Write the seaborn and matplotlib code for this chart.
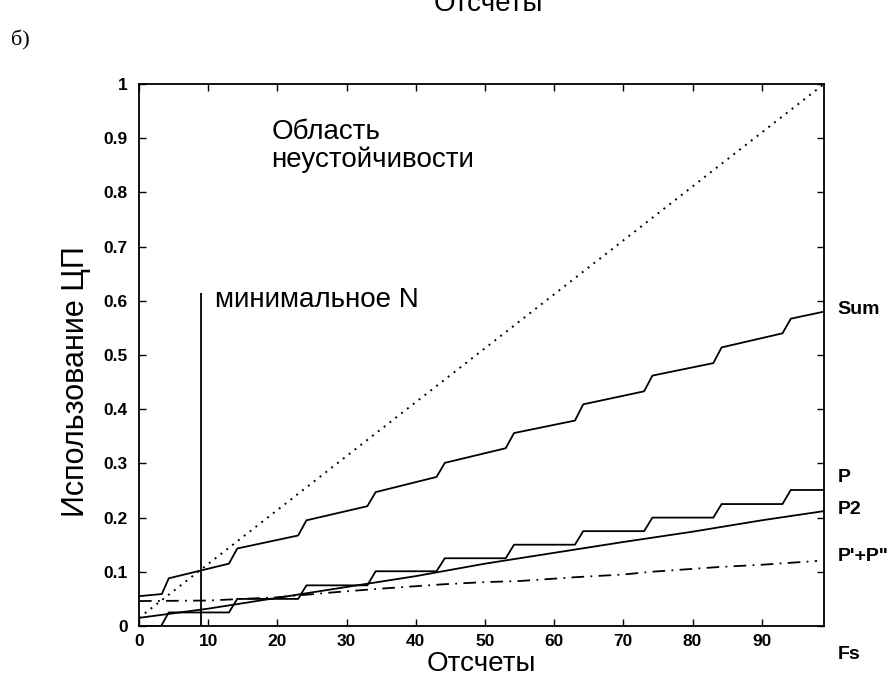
import matplotlib
matplotlib.use("Agg")
import matplotlib.pyplot as plt
import seaborn as sns
import pandas as pd

# --- Data ---
SUM_X = [0, 3.3, 4.3, 13, 14.2, 23, 24.2, 33, 34.2, 43, 44.2, 53, 54.2, 63, 64.2, 73, 74.2, 83, 84.2, 93, 94.2, 99]
SUM_Y = [0.055, 0.059, 0.088, 0.115, 0.143, 0.167, 0.195, 0.221, 0.247, 0.275, 0.301, 0.328,
         0.356, 0.379, 0.409, 0.433, 0.462, 0.485, 0.514, 0.540, 0.567, 0.580]

P_X = [0, 3.2, 4.3, 13, 14.2, 23, 24.2, 33, 34.2, 43, 44.2, 53, 54.2, 63, 64.2, 73, 74.2, 83, 84.2, 93, 94.2, 99]
P_Y = [0, 0, 0.025, 0.025, 0.05, 0.05, 0.075, 0.075, 0.101, 0.101, 0.125, 0.125,
       0.15, 0.15, 0.175, 0.175, 0.2, 0.2, 0.225, 0.225, 0.251, 0.251]

P2_X = [0, 10, 20, 30, 40, 50, 60, 70, 80, 90, 99]
P2_Y = [0.015, 0.032, 0.052, 0.072, 0.092, 0.115, 0.135, 0.155, 0.174, 0.195, 0.212]

PP_X = [0, 10, 20, 28, 35, 44, 50, 55, 63, 70, 74, 84, 90, 98]
PP_Y = [0.046, 0.047, 0.053, 0.062, 0.069, 0.077, 0.081, 0.083, 0.090, 0.095, 0.100, 0.109, 0.113, 0.120]

FS_X = [0, 99]          # Fs, dotted diagonal
FS_Y = [0.015, 1.0]

MIN_N = 9               # "минимальное N"
MIN_N_TOP = 0.615

X_TICKS = [0, 10, 20, 30, 40, 50, 60, 70, 80, 90]
Y_TICKS = [0, 0.1, 0.2, 0.3, 0.4, 0.5, 0.6, 0.7, 0.8, 0.9, 1]
Y_LABELS = ["0", "0.1", "0.2", "0.3", "0.4", "0.5", "0.6", "0.7", "0.8", "0.9", "1"]

# right side labels: (text, y)
RIGHT_LABELS = [("Sum", 0.584), ("P", 0.274), ("P2", 0.215), ("P'+P\"", 0.129), ("Fs", -0.052)]

INK = "black"
DOTTED = (0, (1, 2.8))
DASHDOT = (0, (7, 3.5, 1, 3.5))

sns.set_theme(style="ticks")
plt.rcParams["font.family"] = ["Liberation Sans", "DejaVu Sans"]

fig = plt.figure(figsize=(8.88, 6.81), dpi=100)
ax = fig.add_axes([139 / 888, 1 - 626 / 681, 685 / 888, 542 / 681])


def draw(xs, ys, style, lw=1.3):
    df = pd.DataFrame({"x": xs, "y": ys})
    sns.lineplot(data=df, x="x", y="y", ax=ax, color=INK, linestyle=style,
                 linewidth=lw, estimator=None, sort=False)


draw(FS_X, FS_Y, DOTTED, 1.4)
draw(SUM_X, SUM_Y, "-")
draw(P_X, P_Y, "-")
draw(P2_X, P2_Y, "-")
draw(PP_X, PP_Y, DASHDOT)
ax.vlines(MIN_N, 0, MIN_N_TOP, color=INK, linewidth=1.3)

ax.set_xlim(0, 99)
ax.set_ylim(0, 1)
ax.set_xticks(X_TICKS)
ax.set_yticks(Y_TICKS)
ax.set_yticklabels(Y_LABELS)
ax.tick_params(direction="in", top=True, right=True, length=5, width=1,
               labelsize=12.5, colors=INK)
ax.tick_params(axis="y", pad=8)
ax.tick_params(axis="x", pad=6)
for lab in ax.get_xticklabels() + ax.get_yticklabels():
    lab.set_fontweight("bold")
for sp in ax.spines.values():
    sp.set_visible(True)
    sp.set_color(INK)
    sp.set_linewidth(1.3)

ax.set_xlabel("Отсчеты", fontsize=20, color=INK, labelpad=1)
ax.set_ylabel("Использование ЦП", fontsize=22, color=INK)
ax.yaxis.set_label_coords(-0.07, 0.45)

ax.text(19.1, 0.899, "Область", fontsize=20, color=INK, va="baseline")
ax.text(19.1, 0.847, "неустойчивости", fontsize=20, color=INK, va="baseline")
ax.text(11.0, 0.589, "минимальное N", fontsize=20, color=INK, va="baseline")

for txt, yv in RIGHT_LABELS:
    ax.text(101, yv, txt, fontsize=14, fontweight="bold", color=INK,
            va="center", ha="left", clip_on=False)

fig.text(20 / 888, 1 - 40 / 681, "б)", fontsize=16, color=INK, va="center", ha="center",
         family=["Liberation Serif", "DejaVu Serif"])
fig.text(488 / 888, 1 - 11 / 681, "Отсчеты", fontsize=20, color=INK, va="baseline", ha="center")

fig.savefig("out.png", dpi=100, facecolor="white")
